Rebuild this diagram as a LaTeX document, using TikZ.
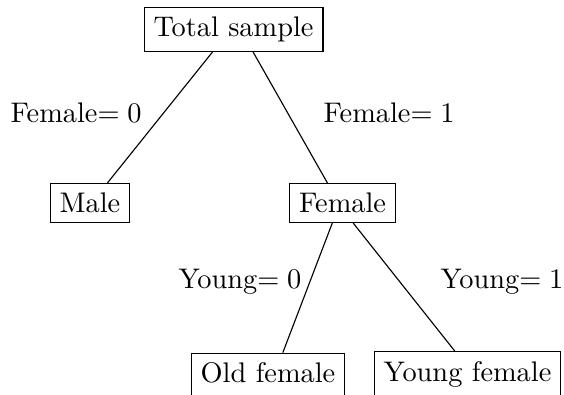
\documentclass[tikz,border=0pt]{standalone}
\begin{document}
\begin{tikzpicture}[x=0.3528pt,y=-0.3528pt,
  box/.style={draw,line width=0.4pt,inner sep=0.333em},
  lab/.style={inner sep=0pt,anchor=base west},
  edge/.style={line width=0.4pt}]
\useasboundingbox (0,0) rectangle (564,394);
\clip (0,0) rectangle (564,394);
\node[box] (t) at (233.5,29.5) {Total sample};
\node[box] (m) at (90,203) {Male};
\node[box] (f) at (342.5,203) {Female};
\node[box,text depth=1.94pt] (o) at (268,375.5) {Old female};
\node[box] (y) at (467.5,374) {Young female};
\draw[edge] (t.-133.7) -- (m.49.6);
\draw[edge] (t.-49) -- (f.127.8);
\draw[edge] (f.-117.7) -- (o.57);
\draw[edge] (f.-62.3) -- (y.119.6);
\node[lab] (l1) at (10,123) {Female$= 0$};
\node[lab] (l2) at (323,123) {Female$= 1$};
\node[lab] (l3) at (178,288) {Young$= 0$};
\node[lab] (l4) at (440,288) {Young$= 1$};
\end{tikzpicture}
\end{document}
